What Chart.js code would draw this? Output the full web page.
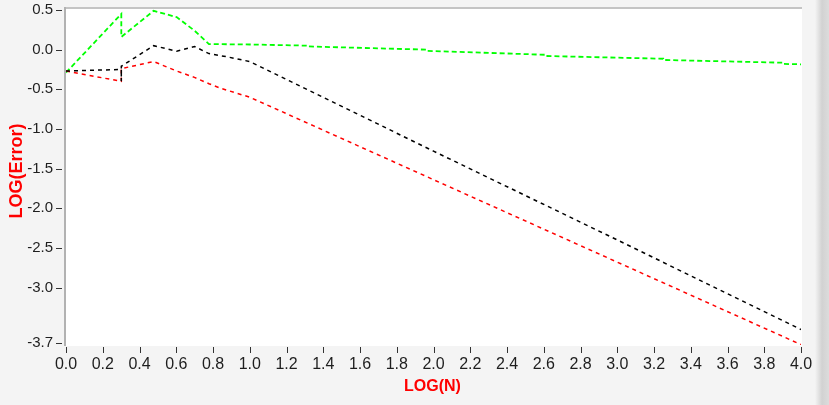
<!DOCTYPE html>
<html>
<head>
<meta charset="utf-8">
<script src="https://cdn.jsdelivr.net/npm/chart.js@4/dist/chart.umd.min.js"></script>
<style>
  html, body { margin: 0; padding: 0; }
  body {
    width: 829px; height: 405px; overflow: hidden;
    background: linear-gradient(to right, #f4f4f4 0px, #f4f4f4 815px, #d2d2d2 822px, #dcdcdc 829px);
  }
  #wrap { position: absolute; left: 0; top: 0; width: 829px; height: 405px; }
</style>
</head>
<body>
<div id="wrap"><canvas id="errChart" width="829" height="405"></canvas></div>
<script>
// x = LOG(N), y = LOG(Error)
let blackX = [0, 0.301, 0.301, 0.301, 0.477, 0.602, 0.699, 0.778, 0.875, 1.0, 2.0, 3.0, 4.0];
let blackY = [-0.27, -0.25, -0.40, -0.21, 0.05, -0.02, 0.04, -0.05, -0.09, -0.15, -1.28, -2.40, -3.53];

let redX = [0, 0.301, 0.301, 0.477, 0.602, 0.699, 0.778, 0.845, 1.0, 2.0, 3.0, 4.0];
let redY = [-0.27, -0.40, -0.24, -0.15, -0.27, -0.35, -0.43, -0.49, -0.60, -1.64, -2.68, -3.72];

let greenX = [0, 0.301, 0.301, 0.477, 0.602, 0.699, 0.778, 1.0, 1.32, 1.32, 1.96, 1.96, 2.61, 2.61, 3.25, 3.25, 3.90, 3.90, 4.0];
let greenY = [-0.29, 0.45, 0.16, 0.49, 0.41, 0.24, 0.07, 0.065, 0.05, 0.04, 0.0, -0.015, -0.065, -0.08, -0.115, -0.13, -0.165, -0.18, -0.185];

let xTicks = [0, 0.2, 0.4, 0.6, 0.8, 1.0, 1.2, 1.4, 1.6, 1.8, 2.0, 2.2, 2.4, 2.6, 2.8, 3.0, 3.2, 3.4, 3.6, 3.8, 4.0];
let yTicks = [0.5, 0.0, -0.5, -1.0, -1.5, -2.0, -2.5, -3.0, -3.7];

let xTitle = 'LOG(N)';
let yTitle = 'LOG(Error)';

function points(xs, ys){
	return xs.map((x, i) => ({x: x, y: ys[i]}));
}

// white plot box, grey frame lines, tick marks and axis titles
const frame = {
	id: 'frame',
	beforeDraw(chart){
		let ctx = chart.ctx;
		let a = chart.chartArea;
		ctx.save();
		ctx.fillStyle = '#ffffff';
		ctx.fillRect(a.left, a.top, a.right - a.left + 1, a.bottom - a.top + 1);
		ctx.fillStyle = '#c4c4c4';
		ctx.fillRect(a.left - 2, a.top - 1, a.right - a.left + 3, 2);
		ctx.fillStyle = '#b2b2b2';
		ctx.fillRect(a.left - 2, a.top - 1, 2, a.bottom - a.top + 2);
		ctx.restore();
	},
	afterDraw(chart){
		let ctx = chart.ctx;
		let a = chart.chartArea;
		let xs = chart.scales.x;
		let ys = chart.scales.y;
		ctx.save();
		ctx.strokeStyle = '#333333';
		ctx.lineWidth = 1;
		ctx.beginPath();
		ys.ticks.forEach(t => {
			let py = Math.round(ys.getPixelForValue(t.value)) + 0.5;
			ctx.moveTo(a.left - 10, py);
			ctx.lineTo(a.left - 4, py);
		});
		xs.ticks.forEach(t => {
			let px = Math.round(xs.getPixelForValue(t.value)) + 0.5;
			ctx.moveTo(px, a.bottom + 2);
			ctx.lineTo(px, a.bottom + 8);
		});
		ctx.stroke();

		ctx.fillStyle = '#ff0000';
		ctx.font = 'bold 16px "Liberation Sans", Arial, sans-serif';
		ctx.textAlign = 'center';
		ctx.textBaseline = 'middle';
		ctx.fillText(xTitle, (a.left + a.right) / 2 - 1, 387);
		ctx.translate(17, 171);
		ctx.rotate(-Math.PI / 2);
		ctx.font = 'bold 18px "Liberation Sans", Arial, sans-serif';
		ctx.fillText(yTitle, 0, 0);
		ctx.restore();
	}
};

function configureChart(){
	let ctx = document.getElementById('errChart').getContext('2d');
	new Chart(ctx, {
		type: 'scatter',
		data: {
			datasets: [{
				label: 'black',
				data: points(blackX, blackY),
				borderColor: '#000000',
				borderWidth: 1.5,
				borderDash: [4, 4]
			},
			{
				label: 'red',
				data: points(redX, redY),
				borderColor: '#ff0000',
				borderWidth: 1.5,
				borderDash: [4, 4]
			},
			{
				label: 'green',
				data: points(greenX, greenY),
				borderColor: '#00ff00',
				borderWidth: 1.8,
				borderDash: [5, 3]
			}]
		},
		options: {
			responsive: false,
			animation: false,
			devicePixelRatio: 1,
			showLine: true,
			elements: {
				point: { radius: 0 },
				line: { tension: 0 }
			},
			layout: { padding: { top: 8, right: 28, left: 0, bottom: 0 } },
			plugins: {
				legend: { display: false },
				tooltip: { enabled: false }
			},
			scales: {
				x: {
					type: 'linear',
					min: 0,
					max: 4.0,
					border: { display: false },
					grid: { display: false, drawTicks: false },
					afterBuildTicks: s => { s.ticks = xTicks.map(v => ({value: v})); },
					afterFit: s => { s.height = 60; s.paddingLeft = 0; s.paddingRight = 0; },
					ticks: {
						autoSkip: false,
						maxRotation: 0,
						padding: 10,
						color: '#1e1e1e',
						font: { family: '"Liberation Sans", Arial, sans-serif', size: 16 },
						callback: v => Number(v).toFixed(1)
					}
				},
				y: {
					type: 'linear',
					min: -3.725,
					max: 0.525,
					border: { display: false },
					grid: { display: false, drawTicks: false },
					afterBuildTicks: s => { s.ticks = yTicks.map(v => ({value: v})); },
					afterFit: s => { s.width = 66; s.paddingTop = 0; s.paddingBottom = 0; },
					ticks: {
						autoSkip: false,
						padding: 13,
						color: '#1e1e1e',
						font: { family: '"Liberation Sans", Arial, sans-serif', size: 15 },
						callback: v => Number(v).toFixed(1)
					}
				}
			}
		},
		plugins: [frame]
	});
}

window.onload = function(){
	configureChart();
}
</script>
</body>
</html>
